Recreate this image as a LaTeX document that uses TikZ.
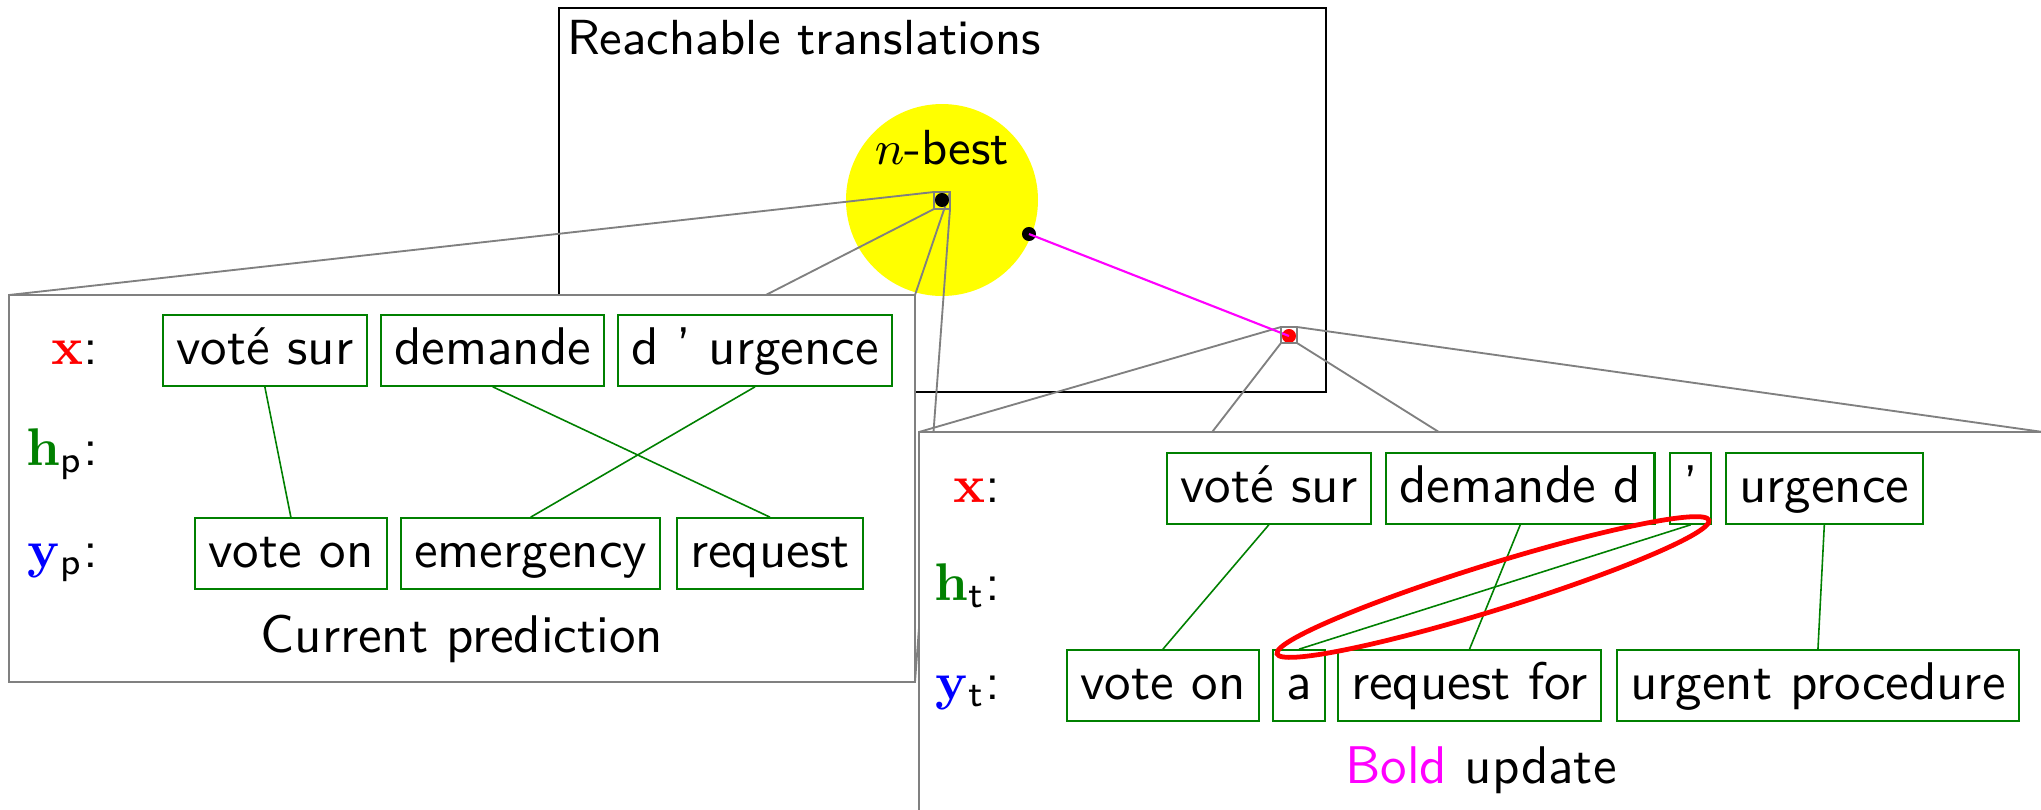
\documentclass[tikz,border=0pt]{standalone}
\usetikzlibrary{fit}
\pgfdeclarelayer{bg}
\pgfdeclarelayer{mid}
\pgfsetlayers{bg,mid,main}
\definecolor{wordgreen}{rgb}{0,0.5,0}
\definecolor{hotmagenta}{rgb}{1,0,1}
\definecolor{brightyellow}{rgb}{1,1,0}
\definecolor{purered}{rgb}{1,0,0}
\definecolor{pureblue}{rgb}{0,0,1}
\tikzset{
  word/.style={draw=wordgreen, line width=0.4pt, fill=white, inner xsep=2.5pt, inner ysep=0pt,
    text height=9.2pt, text depth=4.1pt, font=\sffamily, anchor=base west},
  link/.style={wordgreen, line width=0.3pt},
  zoomframe/.style={draw=gray, fill=white, line width=0.4pt, inner sep=0pt, outer sep=0pt},
  spysq/.style={draw=gray, line width=0.4pt, inner sep=0pt, outer sep=0pt},
  ray/.style={gray, line width=0.35pt},
  lab/.style={font=\sffamily, anchor=base east, inner sep=0pt},
  caption/.style={font=\sffamily, anchor=base, inner sep=0pt},
  small/.style={font=\fontsize{9.3}{11}\selectfont\sffamily, inner sep=0pt},
  dot/.style={circle, fill=#1, inner sep=0pt, minimum size=2.65pt},
}
\begin{document}
\begin{tikzpicture}[x=0.18868pt, y=-0.18868pt]
\useasboundingbox (0,0) rectangle (2041,809);

% space of reachable translations and the n-best region
\begin{pgfonlayer}{bg}
  \node[draw=black, line width=0.45pt, inner sep=0pt, outer sep=0pt,
        fit={(559,8) (1326,392)}] (reach) {};
  \fill[brightyellow] (942,200) circle [radius=96];
\end{pgfonlayer}
\node[small, anchor=base west] (reachlab) at (566,54) {Reachable translations};
\node[small, anchor=base] (nbest) at (942,164) {$n$-best};

% points: current prediction, hope point, update target
\node[dot=black] (pred) at (942,200) {};
\node[dot=black] (hope) at (1029,234) {};
\node[dot=purered] (upd) at (1289,336) {};
\draw[hotmagenta, line width=0.4pt] (hope.center) -- (upd.center);

% magnifier squares
\node[spysq, fit={(934,192) (950,209)}] (sqL) {};
\node[spysq, fit={(1281,327) (1297,343)}] (sqR) {};

% magnified frames
\node[zoomframe, fit={(9,295) (915,682)}] (zl) {};
\node[zoomframe, fit={(919,432) (2043,811)}] (zr) {};

\begin{pgfonlayer}{mid}
  \foreach \c in {north west, north east, south west, south east} {
    \draw[ray] (sqL.\c) -- (zl.\c);
    \draw[ray] (sqR.\c) -- (zr.\c);
  }
\end{pgfonlayer}

% current prediction
\node[lab] (lx1) at (99,364) {\textcolor{purered}{$\mathbf{x}$}:};
\node[lab] (lh1) at (99,465) {$\textcolor{wordgreen}{\mathbf{h}}_{\mathsf{p}}$:};
\node[lab] (ly1) at (99,567) {$\textcolor{pureblue}{\mathbf{y}}_{\mathsf{p}}$:};

\node[word] (vs1) at (162,364) {voté sur};
\node[word] (dm1) at (380,364) {demande};
\node[word] (du1) at (617,364) {d ’ urgence};
\node[word] (vo1) at (194,567) {vote on};
\node[word] (em1) at (400,567) {emergency};
\node[word] (rq1) at (676,567) {request};

\draw[link] (vs1.south) -- (vo1.north);
\draw[link] (dm1.south) -- (rq1.north);
\draw[link] (du1.south) -- (em1.north);

\node[caption] (cap1) at (462,652) {Current prediction};

% bold update
\node[lab] (lx2) at (1001,502) {\textcolor{purered}{$\mathbf{x}$}:};
\node[lab] (lh2) at (1001,600) {$\textcolor{wordgreen}{\mathbf{h}}_{\mathsf{t}}$:};
\node[lab] (ly2) at (1001,699) {$\textcolor{pureblue}{\mathbf{y}}_{\mathsf{t}}$:};

\node[word] (vs2) at (1166,502) {voté sur};
\node[word] (dm2) at (1385,502) {demande d};
\node[word] (ap2) at (1669,502) {’};
\node[word] (ur2) at (1725,502) {urgence};
\node[word] (vo2) at (1066,699) {vote on};
\node[word] (a2) at (1272,699) {a};
\node[word] (rf2) at (1337,699) {request for};
\node[word] (up2) at (1616,699) {urgent procedure};

\draw[link] (vs2.south) -- (vo2.north);
\draw[link] (dm2.south) -- (rf2.north);
\draw[link] (ap2.south) -- (a2.north);
\draw[link] (ur2.south) -- (up2.north);

\draw[purered, line width=0.9pt, rotate around={17.2:(1493,587)}]
  (1493,587) ellipse [x radius=226, y radius=23];

\node[caption] (cap2) at (1481,783) {\textcolor{hotmagenta}{Bold} update};
\end{tikzpicture}
\end{document}
